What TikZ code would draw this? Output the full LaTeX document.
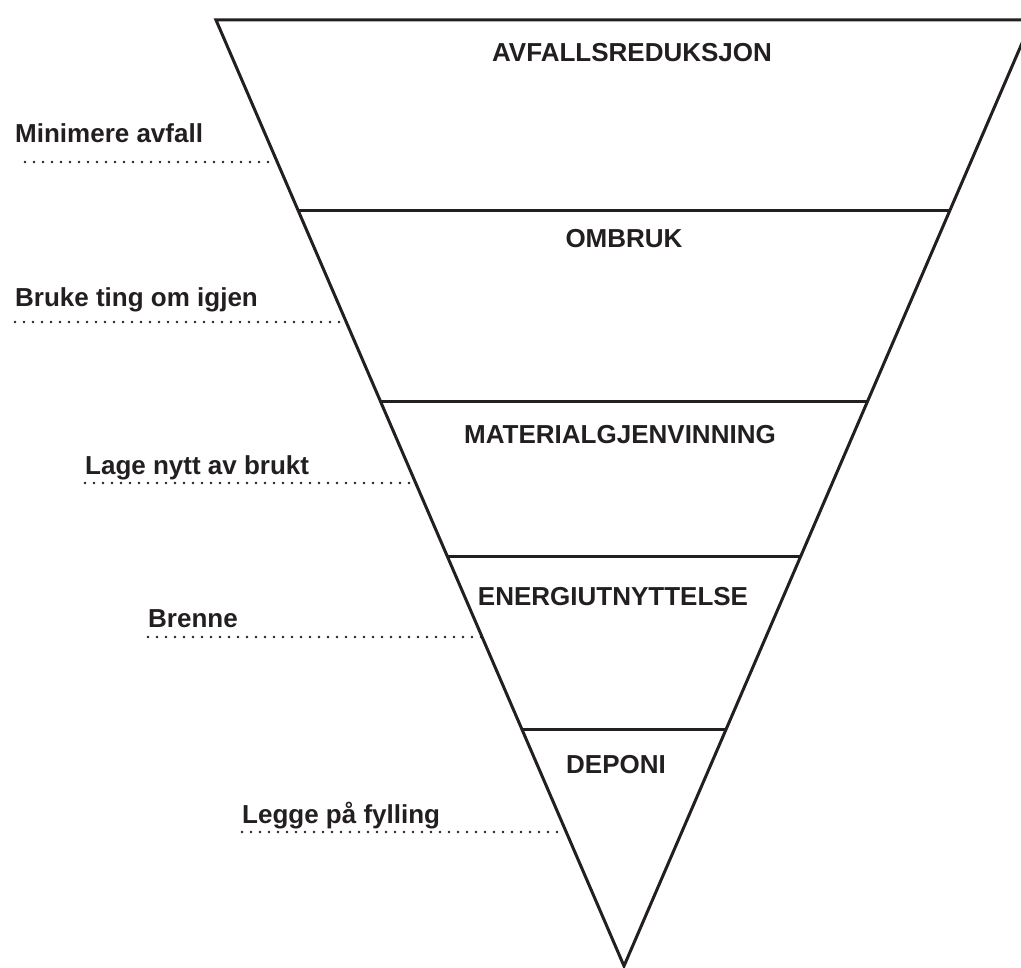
\documentclass[tikz,border=0pt]{standalone}
\usepackage{fontspec}
\setmainfont{Liberation Sans}
\usetikzlibrary{calc}
\definecolor{ink}{HTML}{231F20}
\tikzset{
  edge/.style={draw=ink, line width=3pt, line join=miter},
  lead/.style={draw=ink, line width=2.9pt, line cap=round, dash pattern=on 0pt off 9pt},
  tier/.style={text=ink, font=\fontsize{26pt}{30pt}\selectfont\bfseries, anchor=base, inner sep=0pt},
  note/.style={text=ink, font=\fontsize{26pt}{30pt}\selectfont\bfseries, anchor=base west, inner sep=0pt}
}
\begin{document}
\begin{tikzpicture}[x=1pt,y=-1pt]
\useasboundingbox (0,0) rectangle (1021,968);
\clip (0,0) rectangle (1021,968);
% triangle corners
\coordinate (TL) at (216,20);
\coordinate (TR) at (1032,20);
\coordinate (A) at (624,966);
\draw[edge] (TL) -- (TR) -- (A) -- cycle;
% tier dividers
\foreach \n/\y in {1/211,2/402,3/557,4/730}{
  \coordinate (L\n) at ($(TL)!{(\y-20)/946}!(A)$);
  \coordinate (R\n) at ($(TR)!{(\y-20)/946}!(A)$);
  \draw[edge] (L\n) -- (R\n);
}
% tier titles
\node[tier] (t1) at (632,62) {AVFALLSREDUKSJON};
\node[tier] (t2) at (624,248) {OMBRUK};
\node[tier] (t3) at (620,443) {MATERIALGJENVINNING};
\node[tier] (t4) at (613,605) {ENERGIUTNYTTELSE};
\node[tier] (t5) at (616,773) {DEPONI};
% side notes with dotted leaders
\node[note] (n1) at (15,143) {Minimere avfall};
\node[note] (n2) at (15,307) {Bruke ting om igjen};
\node[note] (n3) at (85,475) {Lage nytt av brukt};
\node[note] (n4) at (148,627) {Brenne};
\node[note] (n5) at (242,823) {Legge på fylling};
\foreach \n/\x/\y in {1/25/162,2/15/322,3/85/483,4/148/637,5/242/832}{
  \coordinate (s\n) at (\x,\y);
  \coordinate (e\n) at ($(TL)!{(\y-20)/946}!(A)$);
  \draw[lead] (s\n) -- (e\n);
}
\end{tikzpicture}
\end{document}
